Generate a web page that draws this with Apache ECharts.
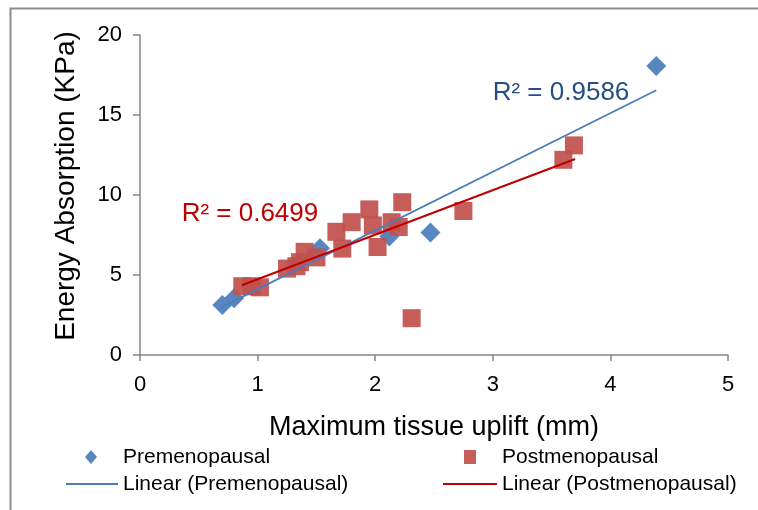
<!DOCTYPE html>
<html>
<head>
<meta charset="utf-8">
<script src="https://cdn.jsdelivr.net/npm/echarts@6/dist/echarts.min.js"></script>
<style>html,body{margin:0;padding:0;background:#fff}#c{width:758px;height:510px}</style>
</head>
<body>
<div id="c"></div>
<script>
// ---- data ----
const preX = [4.39, 2.47, 0.70, 0.80, 1.53, 2.12];
const preY = [18.07, 7.66, 3.12, 3.55, 6.67, 7.40];
const postX = [3.69, 3.60, 2.75, 2.23, 1.95, 1.80, 1.67, 1.72, 1.98, 2.14, 2.20, 2.02, 2.31, 1.40, 1.50, 1.36, 1.33, 1.25, 0.87, 1.02, 0.95];
const postY = [13.1, 12.2, 9.0, 9.55, 9.1, 8.3, 7.7, 6.65, 8.1, 8.3, 8.0, 6.75, 2.3, 6.45, 6.1, 5.8, 5.55, 5.4, 4.3, 4.23, 4.3];
const preTrendX = [0.69, 4.39];
const preTrendY = [2.98, 16.55];
const postTrendX = [0.865, 3.70];
const postTrendY = [4.36, 12.25];
const preR2 = 'R² = 0.9586';
const postR2 = 'R² = 0.6499';
const preR2At = [3.58, 16.39];
const postR2At = [0.935, 8.85];
const xTicks = [0, 1, 2, 3, 4, 5];
const yTicks = [0, 5, 10, 15, 20];
const xTitle = 'Maximum tissue uplift (mm)';
const yTitle = 'Energy Absorption (KPa)';
const names = ['Premenopausal', 'Postmenopausal', 'Linear (Premenopausal)', 'Linear (Postmenopausal)'];

const zip = (a, b) => a.map((v, i) => [v, b[i]]);
const FONT = 'Liberation Sans, Arial, sans-serif';
const axisCol = '#868686';

const chart = echarts.init(document.getElementById('c'));
const legendBase = {
  orient: 'horizontal', padding: 0,
  textStyle: { fontFamily: FONT, fontSize: 21, color: '#000', lineHeight: 24 }
};
chart.setOption({
  animation: false,
  backgroundColor: '#fff',
  grid: { left: 140, right: 30, top: 35, bottom: 155 },
  xAxis: {
    type: 'value', min: xTicks[0], max: xTicks[xTicks.length - 1], interval: 1,
    name: xTitle, nameLocation: 'middle', nameGap: 59,
    nameTextStyle: { fontFamily: FONT, fontSize: 27, color: '#000' },
    axisLine: { show: true, onZero: false, lineStyle: { color: axisCol, width: 1.5 } },
    axisTick: { show: true, length: 6, lineStyle: { color: axisCol, width: 1.5 } },
    axisLabel: { fontFamily: FONT, fontSize: 22, color: '#000', margin: 19 },
    splitLine: { show: false }
  },
  yAxis: {
    type: 'value', min: yTicks[0], max: yTicks[yTicks.length - 1], interval: 5,
    name: yTitle, nameLocation: 'middle', nameGap: 60, nameRotate: 90,
    nameTextStyle: { fontFamily: FONT, fontSize: 28, color: '#000', padding: [0, 0, 0, 18] },
    axisLine: { show: true, onZero: false, lineStyle: { color: axisCol, width: 1.5 } },
    axisTick: { show: true, length: 7, lineStyle: { color: axisCol, width: 1.5 } },
    axisLabel: { fontFamily: FONT, fontSize: 22, color: '#000', margin: 18 },
    splitLine: { show: false }
  },
  legend: [
    Object.assign({}, legendBase, { left: 85, top: 445, data: [{ name: names[0], icon: 'diamond' }], itemWidth: 12, itemHeight: 14,
      textStyle: Object.assign({}, legendBase.textStyle, { padding: [0, 0, 0, 21] }) }),
    Object.assign({}, legendBase, { left: 464, top: 445, data: [{ name: names[1], icon: 'rect' }], itemWidth: 12, itemHeight: 14,
      textStyle: Object.assign({}, legendBase.textStyle, { padding: [0, 0, 0, 21] }) }),
    Object.assign({}, legendBase, { left: 66, top: 472, data: [{ name: names[2], icon: 'rect' }], itemWidth: 52, itemHeight: 2 }),
    Object.assign({}, legendBase, { left: 443, top: 472, data: [{ name: names[3], icon: 'rect' }], itemWidth: 54, itemHeight: 2 })
  ],
  graphic: [{
    type: 'rect', left: 8, top: 6, z: 100,
    shape: { width: 800, height: 600 },
    style: { fill: 'none', stroke: '#8c8c8c', lineWidth: 2 }
  }],
  series: [
    { name: names[0], type: 'scatter', data: zip(preX, preY), symbol: 'diamond', symbolSize: [20, 20],
      itemStyle: { color: '#4F81BD', opacity: 0.95 }, z: 2 },
    { name: names[1], type: 'scatter', data: zip(postX, postY), symbol: 'rect', symbolSize: 18,
      itemStyle: { color: '#C0504D', opacity: 0.92 }, z: 3 },
    { name: names[2], type: 'line', data: zip(preTrendX, preTrendY), symbol: 'none',
      lineStyle: { color: '#4A7EBB', width: 1.8 }, itemStyle: { color: '#4A7EBB' }, z: 4,
      markPoint: { symbol: 'circle', symbolSize: 0, silent: true,
        data: [{ coord: preR2At, value: preR2 }],
        label: { show: true, position: 'inside', formatter: preR2, fontFamily: FONT, fontSize: 26, color: '#254E82' } } },
    { name: names[3], type: 'line', data: zip(postTrendX, postTrendY), symbol: 'none',
      lineStyle: { color: '#C00000', width: 2 }, itemStyle: { color: '#C00000' }, z: 5,
      markPoint: { symbol: 'circle', symbolSize: 0, silent: true,
        data: [{ coord: postR2At, value: postR2 }],
        label: { show: true, position: 'inside', formatter: postR2, fontFamily: FONT, fontSize: 26, color: '#C00000' } } }
  ]
});
</script>
</body>
</html>
